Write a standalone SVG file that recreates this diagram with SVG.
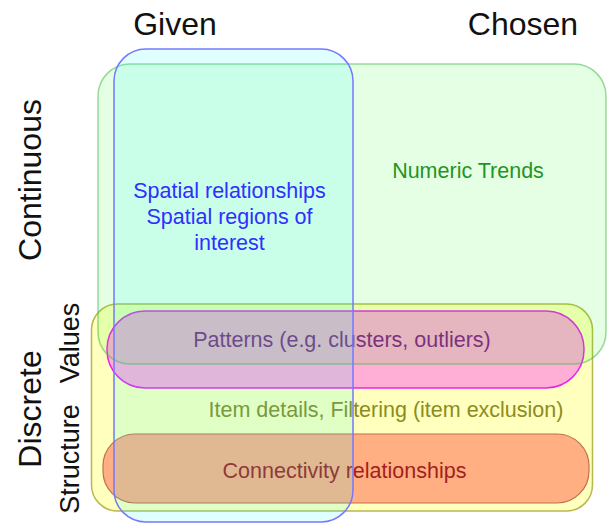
<svg xmlns="http://www.w3.org/2000/svg" width="607" height="523" viewBox="0 0 607 523">
<style>
text{font-family:"Liberation Sans",Arial,sans-serif;}
.hdr{font-size:32px;fill:#111;text-anchor:middle;}
.side{font-size:32px;fill:#111;text-anchor:middle;}
.sub{font-size:27px;fill:#111;text-anchor:middle;}
.lbl{font-size:21.5px;text-anchor:middle;}
</style>
<rect width="607" height="523" fill="#ffffff"/>
<g id="axis-labels">
<text class="hdr" x="175" y="35">Given</text>
<text class="hdr" x="523" y="35">Chosen</text>
<text class="side" transform="translate(41,180) rotate(-90)">Continuous</text>
<text class="side" transform="translate(41,409) rotate(-90)">Discrete</text>
<text class="sub" transform="translate(79,343) rotate(-90)">Values</text>
<text class="sub" transform="translate(79,459) rotate(-90)">Structure</text>
</g>
<g id="discrete">
<rect x="91.5" y="304" width="501" height="207" rx="26" fill="#ffffbe" stroke="#b8b850" stroke-width="1.5"/>
<text class="lbl" x="386" y="417" fill="#8c8c1e">Item details, Filtering (item exclusion)</text>
</g>
<g id="patterns">
<rect x="107" y="311" width="477" height="77" rx="38" fill="#ffaed6" stroke="#ee22ee" stroke-width="1.5"/>
<text class="lbl" x="342" y="347" fill="#8b1a8b">Patterns (e.g. clusters, outliers)</text>
</g>
<g id="connectivity">
<rect x="103" y="434" width="486" height="69" rx="32" fill="#ffaf82" stroke="#c07050" stroke-width="1.2"/>
<text class="lbl" x="344.5" y="478" fill="#a31e1e">Connectivity relationships</text>
</g>
<g id="chosen-continuous">
<rect x="98" y="64" width="508" height="300" rx="32" fill="#00ff00" fill-opacity="0.1" stroke="#4cb84c" stroke-opacity="0.55" stroke-width="1.5"/>
<text class="lbl" x="468" y="178" fill="#1f961f">Numeric Trends</text>
</g>
<g id="given">
<rect x="114" y="49" width="239" height="473" rx="32" fill="#00ffff" fill-opacity="0.12" stroke="#7777ff" stroke-width="1.5"/>
<text class="lbl" fill="#2f2fff"><tspan x="229.5" y="198">Spatial relationships</tspan><tspan x="229.5" y="224">Spatial regions of</tspan><tspan x="229.5" y="250">interest</tspan></text>
</g>
</svg>
